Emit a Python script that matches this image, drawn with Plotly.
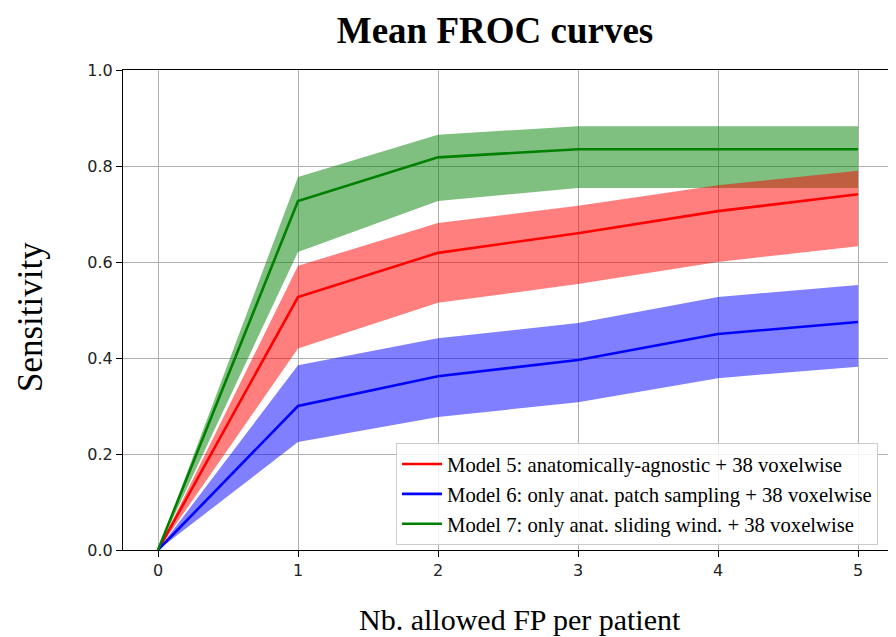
import plotly.graph_objects as go

fp = [0, 1, 2, 3, 4, 5]

names = [
    "Model 5: anatomically-agnostic + 38 voxelwise",
    "Model 6: only anat. patch sampling + 38 voxelwise",
    "Model 7: only anat. sliding wind. + 38 voxelwise",
]

m5_mean = [0, 0.527, 0.619, 0.660, 0.706, 0.741]
m5_low = [0, 0.420, 0.515, 0.554, 0.600, 0.633]
m5_high = [0, 0.592, 0.681, 0.717, 0.760, 0.790]

m6_mean = [0, 0.300, 0.362, 0.396, 0.450, 0.475]
m6_low = [0, 0.225, 0.277, 0.308, 0.358, 0.382]
m6_high = [0, 0.385, 0.441, 0.473, 0.527, 0.552]

m7_mean = [0, 0.727, 0.818, 0.835, 0.835, 0.835]
m7_low = [0, 0.621, 0.727, 0.754, 0.754, 0.754]
m7_high = [0, 0.777, 0.865, 0.883, 0.883, 0.883]

series = [
    (names[0], m5_mean, m5_low, m5_high, "#ff0000", "rgba(255,0,0,0.5)"),
    (names[1], m6_mean, m6_low, m6_high, "#0000ff", "rgba(0,0,255,0.5)"),
    (names[2], m7_mean, m7_low, m7_high, "#008000", "rgba(0,128,0,0.5)"),
]

fig = go.Figure()

# bands
for name, mean, low, high, col, fill in [series[2], series[0], series[1]]:
    fig.add_trace(go.Scatter(
        x=fp + fp[::-1], y=high + low[::-1], fill="toself", fillcolor=fill,
        line=dict(width=0), mode="lines", showlegend=False, hoverinfo="skip"))

for name, mean, low, high, col, fill in series:
    fig.add_trace(go.Scatter(x=fp, y=mean, mode="lines", name=name,
                             line=dict(color=col, width=2.6)))

axis_common = dict(
    showgrid=True, gridcolor="#b0b0b0", gridwidth=1,
    showline=True, linecolor="black", linewidth=1.2, mirror=True,
    ticks="outside", ticklen=6, tickcolor="black",
    tickfont=dict(family="DejaVu Sans", size=16, color="#222"),
    zeroline=False, automargin=False,
)

# page body has an 8px default margin: offset everything by it
OFF = 8
W, H = 896 - OFF, 637 - OFF
L, T = 123 - OFF, 70 - OFF
R, B = 896 - 893, 637 - 550
pw = W - L - R
ph = H - T - B


def px(xp):
    return (xp - OFF - L) / pw


def py(yp):
    return (T + ph - (yp - OFF)) / ph


fig.update_layout(
    width=W, height=H,
    margin=dict(l=L, r=R, t=T, b=B, autoexpand=False),
    paper_bgcolor="white", plot_bgcolor="white",
    title=dict(text="<b>Mean FROC curves</b>", xref="paper", x=px(495),
               xanchor="center", y=1 - (30 - OFF) / H, yanchor="middle",
               font=dict(family="Liberation Serif", size=37, color="black")),
    xaxis=dict(range=[-0.25, 5.25], tickvals=[0, 1, 2, 3, 4, 5], **axis_common),
    yaxis=dict(range=[0, 1.0], tickvals=[0, 0.2, 0.4, 0.6, 0.8, 1.0],
               tickformat=".1f", **axis_common),
    legend=dict(x=px(878), y=py(545), xanchor="right", yanchor="bottom",
                bgcolor="rgba(255,255,255,0.85)", bordercolor="#cccccc", borderwidth=1,
                font=dict(family="Liberation Serif", size=20.7, color="black"),
                tracegroupgap=0, itemwidth=40),
    annotations=[
        dict(text="Nb. allowed FP per patient", xref="paper", yref="paper",
             x=px(520), y=py(619), xanchor="center", yanchor="middle",
             showarrow=False,
             font=dict(family="Liberation Serif", size=30, color="black")),
        dict(text="Sensitivity", xref="paper", yref="paper", textangle=-90,
             x=px(30), y=py(317), xanchor="center", yanchor="middle",
             showarrow=False,
             font=dict(family="Liberation Serif", size=35, color="black")),
    ],
)

fig.write_html("out.html")
